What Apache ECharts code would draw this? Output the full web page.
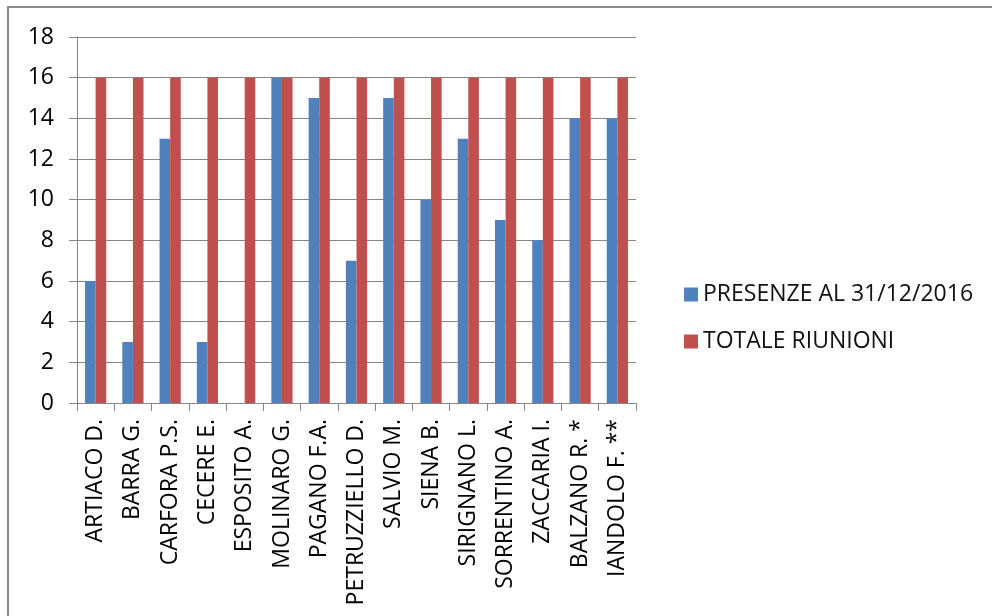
<!DOCTYPE html>
<html>
<head>
<meta charset="utf-8">
<script src="https://cdn.jsdelivr.net/npm/echarts@6/dist/echarts.min.js"></script>
<style>html,body{margin:0;padding:0;background:#fff;}#c{width:992px;height:616px;}</style>
</head>
<body>
<div id="c"></div>
<script>
const categories = ["ARTIACO D.","BARRA G.","CARFORA P.S.","CECERE E.","ESPOSITO A.","MOLINARO G.","PAGANO F.A.","PETRUZZIELLO D.","SALVIO M.","SIENA B.","SIRIGNANO L.","SORRENTINO A.","ZACCARIA I.","BALZANO R. *","IANDOLO F. **"];
const presenze = [6,3,13,3,0,16,15,7,15,10,13,9,8,14,14];
const totale = [16,16,16,16,16,16,16,16,16,16,16,16,16,16,16];
const seriesNames = ["PRESENZE AL 31/12/2016","TOTALE RIUNIONI"];

const font = "'Open Sans', 'Noto Sans', sans-serif";
const chart = echarts.init(document.getElementById('c'), null, {renderer:'canvas'});
chart.setOption({
  animation:false,
  backgroundColor:'#fff',
  textStyle:{fontFamily:font},
  graphic:[{type:'rect',shape:{x:8,y:7,width:1100,height:700},style:{fill:'none',stroke:'#8a8a8a',lineWidth:2},silent:true}],
  grid:{left:77,top:37,right:356,bottom:213,containLabel:false},
  legend:{
    orient:'vertical',left:679,top:278,itemWidth:14,itemHeight:14,itemGap:24,
    icon:'rect',
    textStyle:{fontFamily:font,fontSize:23,color:'#111'},
    data:seriesNames
  },
  xAxis:{
    type:'category',data:categories,boundaryGap:true,
    axisLine:{lineStyle:{color:'#868686',width:1}},
    axisTick:{show:true,alignWithLabel:false,length:8,lineStyle:{color:'#868686'}},
    axisLabel:{rotate:90,interval:0,margin:16,fontSize:23,color:'#000',fontFamily:font}
  },
  yAxis:{
    type:'value',min:0,max:18,interval:2,
    axisLine:{show:true,lineStyle:{color:'#868686'}},
    axisTick:{show:true,length:8,lineStyle:{color:'#868686'}},
    splitLine:{lineStyle:{color:'#868686',width:1}},
    axisLabel:{fontSize:23,color:'#000',margin:23,fontFamily:font}
  },
  series:[
    {name:seriesNames[0],type:'bar',data:presenze,barWidth:10.6,barGap:'0%',itemStyle:{color:'#4F81BD'}},
    {name:seriesNames[1],type:'bar',data:totale,barWidth:10.6,barGap:'0%',itemStyle:{color:'#C0504D'}}
  ]
});
</script>
</body>
</html>
